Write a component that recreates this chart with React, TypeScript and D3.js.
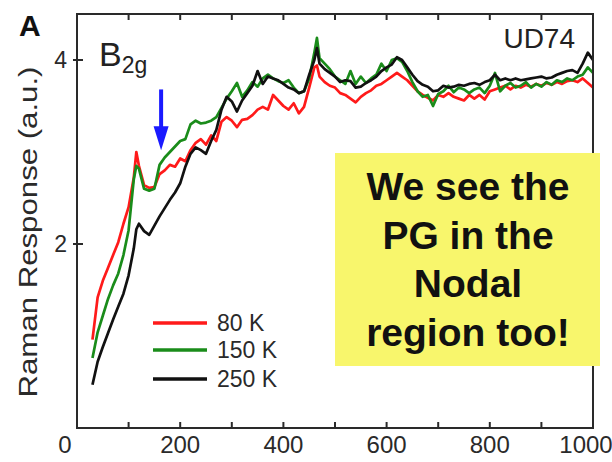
import React from 'react';
import * as d3 from 'd3';

// Raman shift (cm-1) sampled along the traces
const ramanShift = [
  30, 40, 50, 60, 70, 80, 90, 100, 110, 115,
  120, 130, 140, 150, 160, 170, 180, 190, 200, 210,
  220, 230, 240, 250, 260, 270, 280, 290, 300, 310,
  320, 330, 340, 350, 360, 370, 380, 390, 400, 410,
  420, 430, 440, 450, 460, 465, 470, 480, 490, 500,
  510, 520, 530, 540, 550, 560, 570, 580, 590, 600,
  610, 620, 630, 640, 650, 660, 670, 680, 690, 700,
  710, 720, 730, 740, 750, 760, 770, 780, 790, 800,
  810, 820, 830, 840, 850, 860, 870, 880, 890, 900,
  910, 920, 930, 940, 950, 960, 970, 980, 990, 1000,
];

const resp80K = [
  0.96, 1.42, 1.6, 1.74, 1.88, 2.02, 2.22, 2.4, 2.72, 3.0,
  2.85, 2.64, 2.61, 2.62, 2.76, 2.8, 2.86, 2.84, 2.93, 2.9,
  3.02, 3.1, 3.14, 3.08, 3.18, 3.12, 3.33, 3.38, 3.34, 3.27,
  3.35, 3.36, 3.4, 3.46, 3.49, 3.46, 3.62, 3.56, 3.5, 3.46,
  3.53, 3.42, 3.49, 3.7, 3.92, 3.94, 3.82, 3.76, 3.72, 3.7,
  3.64, 3.62, 3.58, 3.54, 3.6, 3.64, 3.67, 3.72, 3.74, 3.78,
  3.82, 3.86, 3.82, 3.78, 3.72, 3.66, 3.62, 3.59, 3.56, 3.62,
  3.6, 3.64, 3.6, 3.58, 3.56, 3.62, 3.58, 3.62, 3.57, 3.66,
  3.68, 3.7, 3.72, 3.68, 3.72, 3.7, 3.73, 3.71, 3.74, 3.72,
  3.75, 3.73, 3.76, 3.74, 3.77, 3.78, 3.76, 3.8, 3.75, 3.7,
];

const resp150K = [
  0.76, 1.04, 1.22, 1.4, 1.55, 1.68, 1.88, 2.15, 2.7, 2.85,
  2.82, 2.6, 2.58, 2.6, 2.86, 2.94, 3.0, 3.06, 3.12, 3.14,
  3.3, 3.34, 3.31, 3.32, 3.34, 3.38, 3.48, 3.58, 3.66, 3.75,
  3.6, 3.67, 3.76, 3.71, 3.8, 3.84, 3.8, 3.77, 3.75, 3.78,
  3.7, 3.64, 3.66, 3.8, 4.08, 4.24, 4.02, 3.96, 3.9, 3.82,
  3.78, 3.74, 3.88, 3.74, 3.82, 3.75, 3.8, 3.84, 3.96, 3.88,
  4.0, 4.02, 3.98, 3.88, 3.76, 3.66, 3.6, 3.62, 3.5, 3.63,
  3.66, 3.72, 3.65, 3.7, 3.68, 3.64, 3.68, 3.7, 3.64, 3.72,
  3.86, 3.66, 3.72, 3.75, 3.7, 3.72, 3.76, 3.7, 3.74, 3.71,
  3.76, 3.73, 3.78, 3.76, 3.8, 3.78, 3.82, 3.84, 3.92, 3.86,
];

const resp250K = [
  0.47, 0.72, 0.88, 1.03, 1.18, 1.32, 1.46, 1.66, 1.95, 2.16,
  2.22, 2.14, 2.1, 2.2, 2.3, 2.39, 2.48, 2.56, 2.66, 2.84,
  2.98, 3.05, 3.02, 2.98, 3.12, 3.24, 3.46, 3.6, 3.55, 3.44,
  3.56, 3.64, 3.72, 3.88, 3.74, 3.82, 3.8, 3.78, 3.74, 3.7,
  3.68, 3.64, 3.66, 3.84, 4.0, 4.13, 3.96, 3.9, 3.86, 3.82,
  3.76, 3.78, 3.77, 3.7, 3.71, 3.75, 3.78, 3.82, 3.88, 3.92,
  3.95, 4.03, 4.0, 3.92, 3.84, 3.77, 3.73, 3.71, 3.66, 3.67,
  3.72, 3.7, 3.71, 3.73, 3.72, 3.74, 3.75, 3.73, 3.76, 3.78,
  3.84, 3.78, 3.8, 3.78, 3.8, 3.78, 3.79, 3.8, 3.81, 3.82,
  3.8, 3.81, 3.84, 3.86, 3.88, 3.89, 3.86, 3.96, 4.08, 4.0,
];

const seriesLabels = ['80 K', '150 K', '250 K'];
const seriesColors = ['#ff1a1a', '#1a8c1a', '#111111'];
const xTickLabels = [0, 200, 400, 600, 800, 1000];
const xMinorTicks = [100, 200, 300, 400, 500, 600, 700, 800, 900];
const yTickLabels = [2, 4];
const boxLines = ['We see the', 'PG in the', 'Nodal', 'region too!'];
// arrow marks the kink at ~163 cm-1
const arrowShift = 163;
const arrowTop = 3.68;
const arrowTip = 3.02;

const FONT = '"Liberation Sans", Arial, Helvetica, sans-serif';

const App = () => {
  const left = 77, right = 593, top = 14, bottom = 428;
  const x = d3.scaleLinear().domain([0, 1000]).range([left, right]);
  const y = d3.scaleLinear().domain([0, 4.5]).range([bottom, top]);

  const line = d3.line<number>()
    .x((_, i) => x(ramanShift[i]))
    .y(d => y(d));

  const series = [resp80K, resp150K, resp250K];
  const ax = x(arrowShift);

  return (
    <svg width={612} height={462} style={{ position: 'absolute', left: 0, top: 0, background: '#fff' }}
      fontFamily={FONT}>
      <rect width={612} height={462} fill="#fff" />

      {/* curves */}
      {series.map((s, i) => (
        <path key={i} d={line(s) || ''} fill="none" stroke={seriesColors[i]}
          strokeWidth={2.7} strokeLinejoin="round" />
      ))}

      {/* frame */}
      <rect x={left} y={top} width={right - left} height={bottom - top}
        fill="none" stroke="#2a2a2a" strokeWidth={2} />
      {xMinorTicks.map(t => (
        <g key={t}>
          <line x1={x(t)} x2={x(t)} y1={bottom} y2={bottom - 6} stroke="#2a2a2a" strokeWidth={2} />
          <line x1={x(t)} x2={x(t)} y1={top} y2={top + 6} stroke="#2a2a2a" strokeWidth={2} />
        </g>
      ))}
      {yTickLabels.map(t => (
        <g key={t}>
          <line x1={left - 4} x2={left + 6} y1={y(t)} y2={y(t)} stroke="#2a2a2a" strokeWidth={2} />
          <text x={left - 10} y={y(t) + 8} textAnchor="end" fontSize={23} fill="#2a2a2a">{t}</text>
        </g>
      ))}
      {xTickLabels.map(t => (
        <text key={t} x={x(t) + (t === 0 ? -12 : t === 1000 ? -7 : 0)} y={453}
          textAnchor="middle" fontSize={24} fill="#2a2a2a">{t}</text>
      ))}

      {/* axis title */}
      <text transform="translate(37,232) rotate(-90)" textAnchor="middle" fontSize={26}
        fill="#2a2a2a" textLength={331} lengthAdjust="spacingAndGlyphs">Raman Response (a.u.)</text>

      {/* panel labels */}
      <text x={19} y={36} fontSize={30} fontWeight="bold" fill="#111">A</text>
      <text x={99} y={66} fontSize={34} fill="#222">B<tspan fontSize={23} dy={7}>2g</tspan></text>
      <text x={575} y={48} fontSize={28} textAnchor="end" fill="#222">UD74</text>

      {/* arrow */}
      <line x1={ax} x2={ax} y1={y(arrowTop)} y2={y(arrowTip) - 20} stroke="#1a1aff" strokeWidth={4} />
      <path d={`M${ax - 7.5},${y(arrowTip) - 24} L${ax + 7.5},${y(arrowTip) - 24} L${ax},${y(arrowTip)} Z`}
        fill="#1a1aff" />

      {/* legend */}
      {seriesLabels.map((l, i) => {
        const ly = [323, 350, 379][i];
        return (
          <g key={l}>
            <line x1={153} x2={207} y1={ly} y2={ly} stroke={seriesColors[i]} strokeWidth={3.5} />
            <text x={217} y={ly + 8} fontSize={23} fill="#2a2a2a">{l}</text>
          </g>
        );
      })}

      {/* annotation box */}
      <rect x={335} y={153} width={265} height={213} fill="#f8f66c" />
      {boxLines.map((t, i) => (
        <text key={t} x={468} y={200 + i * 48.5} textAnchor="middle" fontSize={39}
          fontWeight="bold" fill="#111">{t}</text>
      ))}
    </svg>
  );
};

export default App;
